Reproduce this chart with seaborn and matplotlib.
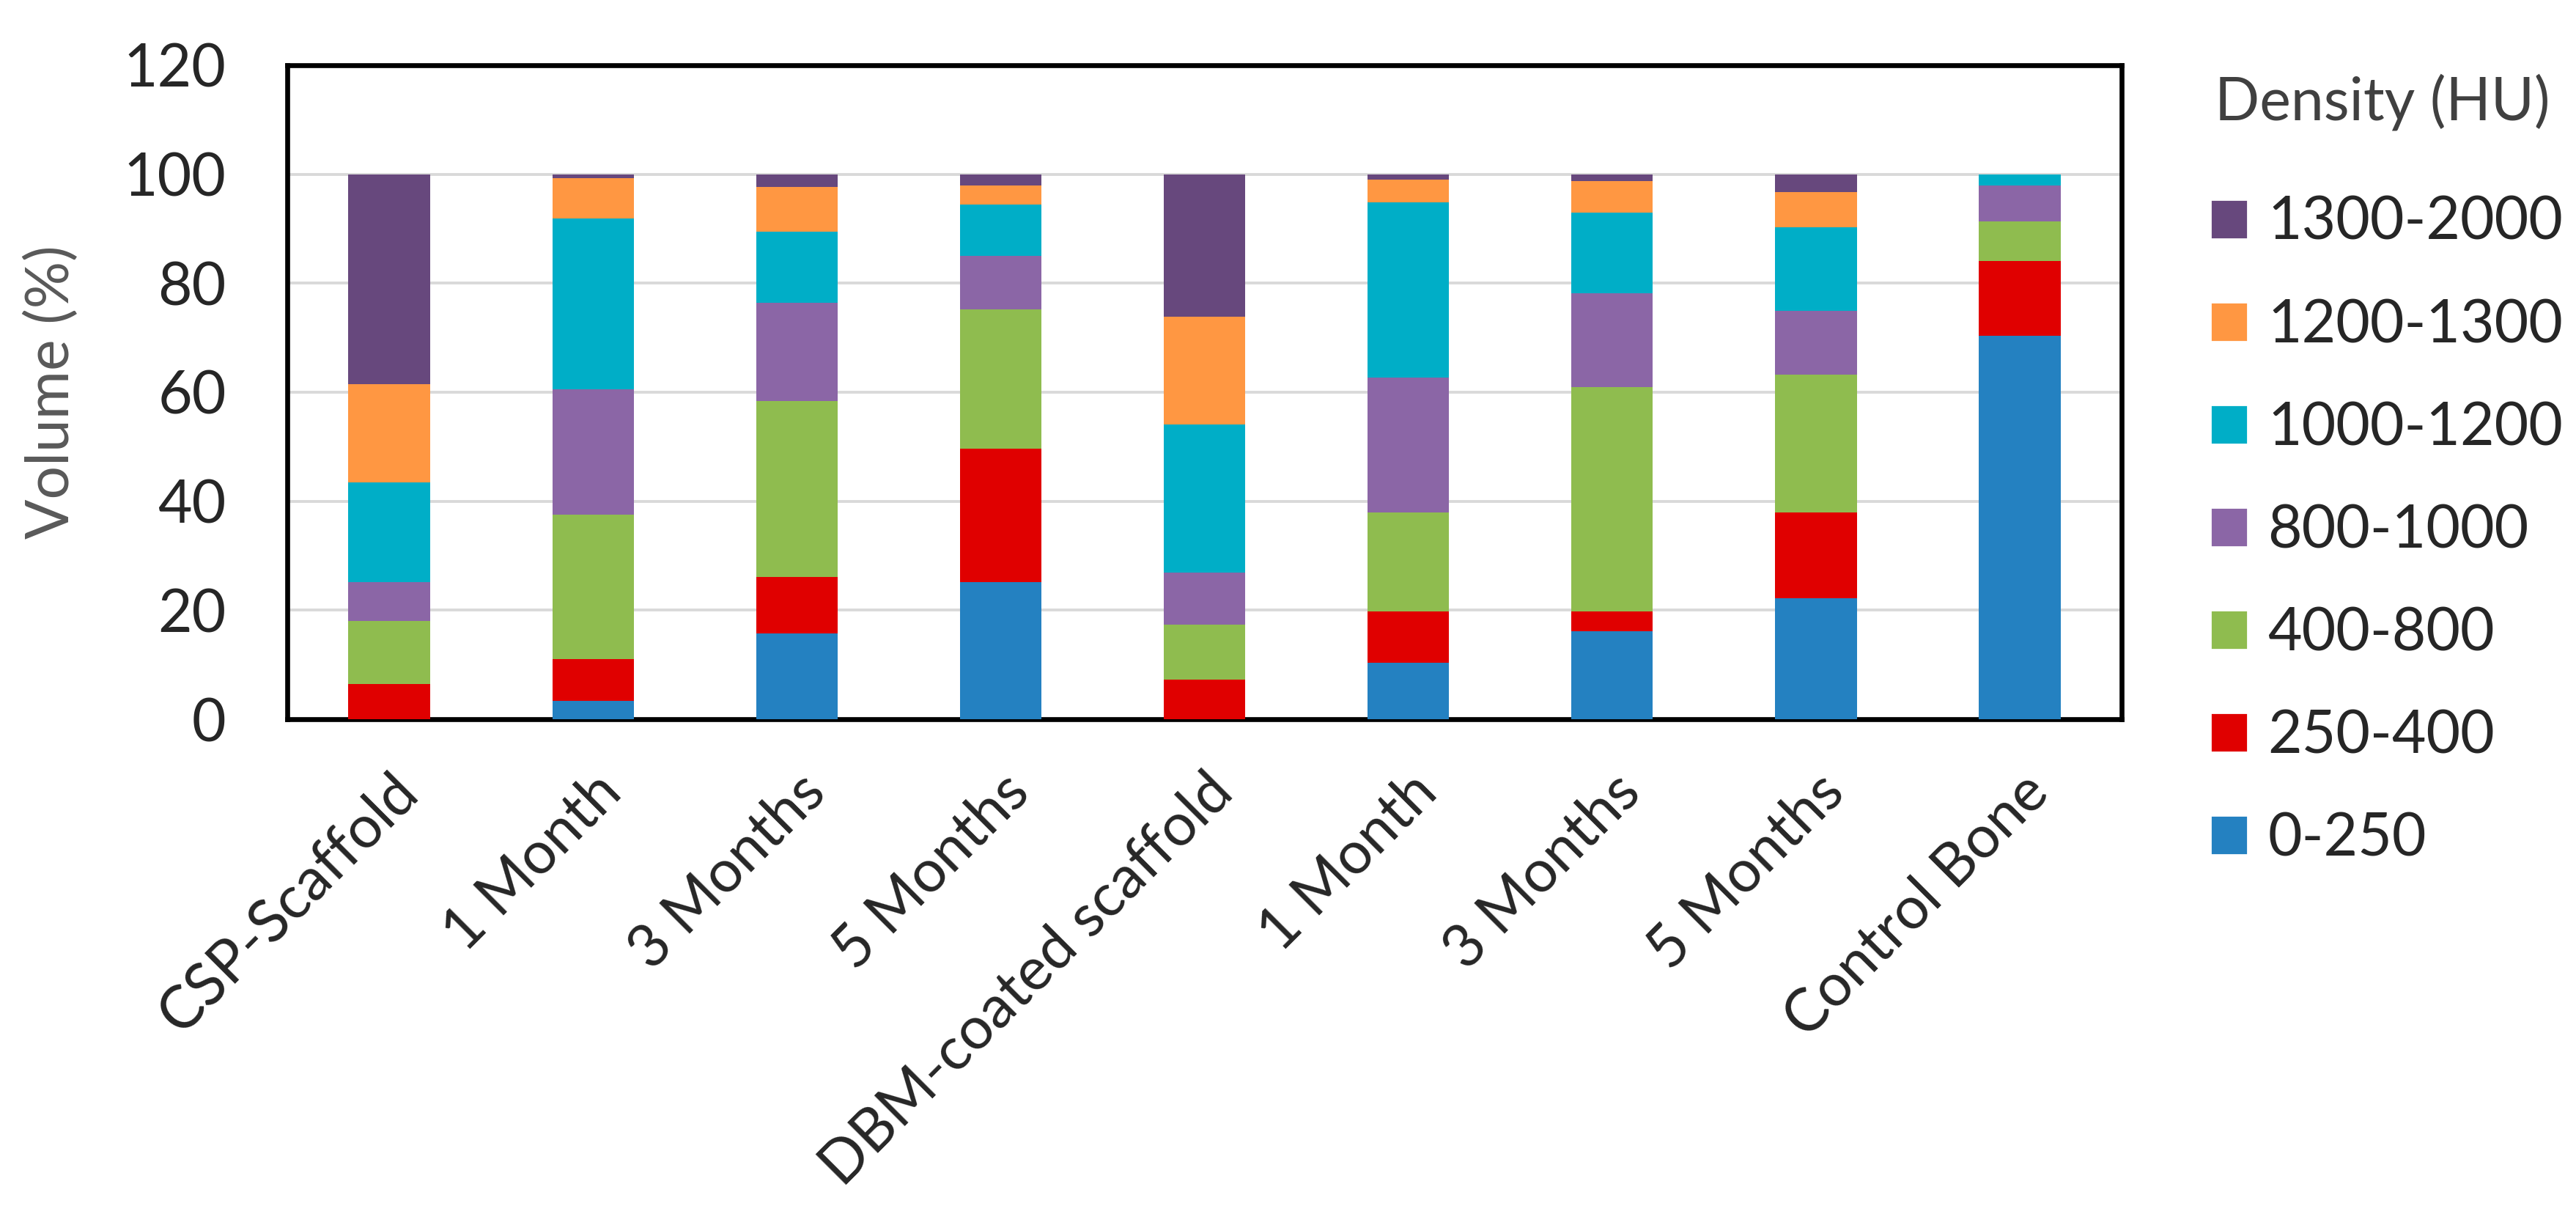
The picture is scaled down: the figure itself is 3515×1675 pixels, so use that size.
import numpy as np
import pandas as pd
import matplotlib.pyplot as plt
import seaborn as sns
from matplotlib.patches import Patch

# Volume (%) per density range
samples = ['CSP-Scaffold', '1 Month', '3 Months', '5 Months', 'DBM-coated scaffold',
           '1 Month', '3 Months', '5 Months', 'Control Bone']
ranges = ['0-250', '250-400', '400-800', '800-1000', '1000-1200', '1200-1300', '1300-2000']

v_0_250 = [0.0, 3.4, 15.8, 25.1, 0.0, 10.4, 16.2, 22.2, 70.3]
v_250_400 = [6.5, 7.6, 10.3, 24.5, 7.3, 9.4, 3.6, 15.8, 13.8]
v_400_800 = [11.5, 26.6, 32.3, 25.6, 10.1, 18.2, 41.1, 25.2, 7.3]
v_800_1000 = [7.1, 22.9, 18.0, 9.8, 9.5, 24.7, 17.2, 11.7, 6.5]
v_1000_1200 = [18.3, 31.4, 13.1, 9.4, 27.2, 32.1, 14.9, 15.4, 2.1]
v_1200_1300 = [18.1, 7.4, 8.1, 3.5, 19.8, 4.2, 5.7, 6.4, 0.0]
v_1300_2000 = [38.5, 0.7, 2.4, 2.1, 26.1, 1.0, 1.3, 3.3, 0.0]

colors = ['#2481C1', '#E00000', '#8FBC4F', '#8B66A6', '#00AEC7', '#FF9742', '#67487D']

series = [v_0_250, v_250_400, v_400_800, v_800_1000, v_1000_1200, v_1200_1300, v_1300_2000]
df = pd.DataFrame(np.array(series).T, columns=ranges)
df['pos'] = range(len(samples))
cum = df[ranges].cumsum(axis=1)

sns.set_style('white')
plt.rcParams['font.family'] = ['Lato', 'DejaVu Sans']
fs = 29

fig = plt.figure(figsize=(17.58, 8.375), dpi=200)
ax = fig.add_axes([0.1115, 0.4143, 0.7119, 0.5326])

# stacked bars: draw cumulative totals from the top down
for r, c in reversed(list(zip(ranges, colors))):
    sns.barplot(x=df['pos'], y=cum[r], color=c, width=0.4, saturation=1,
                linewidth=0, ax=ax, zorder=3)

ax.set_xlim(-0.5, len(samples) - 0.5)
ax.set_ylim(0, 120)
ax.set_yticks(range(0, 121, 20))
ax.set_xticks(range(len(samples)))
ax.set_xticklabels(samples, rotation=45, ha='right', rotation_mode='anchor')
ax.tick_params(axis='y', length=0, pad=30, labelsize=fs)
ax.tick_params(axis='x', length=0, pad=22, labelsize=fs)
ax.yaxis.grid(True, color='#D9D9D9', linewidth=1.4, zorder=0)
ax.set_axisbelow(True)
for s in ax.spines.values():
    s.set_color('black')
    s.set_linewidth(2.4)
ax.set_xlabel('')
ax.set_ylabel('Volume (%)', fontsize=fs, color='#595959')
ax.yaxis.set_label_coords(-0.1135, 0.5)

# legend, title drawn separately
fig.text(0.8595, 0.917, 'Density (HU)', fontsize=fs, color='#404040', va='center', ha='left')
handles = [Patch(facecolor=c, label=r) for r, c in zip(ranges, colors)][::-1]
fig.legend(handles=handles, loc='upper left', bbox_to_anchor=(0.8578, 0.8406),
           frameon=False, fontsize=fs,
           handlelength=0.63, handleheight=0.66, handletextpad=0.34,
           labelspacing=0.82, borderpad=0, borderaxespad=0)

fig.savefig('out.png', dpi=200)
